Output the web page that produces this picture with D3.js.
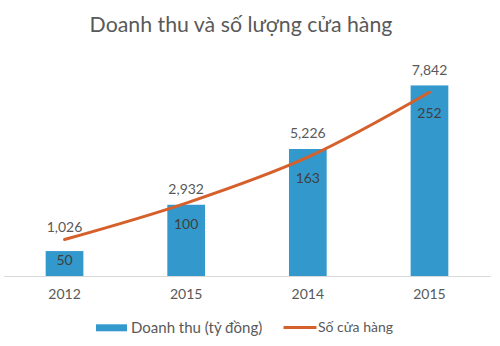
<!DOCTYPE html>
<html>
<head>
<meta charset="utf-8">
<script src="https://cdn.jsdelivr.net/npm/d3@7"></script>
<style>
  html, body { margin: 0; padding: 0; background: #fff; }
  svg { display: block; font-family: Lato, "Open Sans", sans-serif; }
</style>
</head>
<body>
<svg id="chart" width="500" height="346"></svg>
<script>
// Chart data
const categories = ["2012", "2015", "2014", "2015"];
const revenue = [1026, 2932, 5226, 7842];      // Doanh thu (tỷ đồng)
const storeCount = [50, 100, 163, 252];        // Số cửa hàng
const titleText = "Doanh thu và số lượng cửa hàng";
const seriesNames = ["Doanh thu (tỷ đồng)", "Số cửa hàng"];

const svg = d3.select("#chart");
const barColor = "#3399cc";
const lineColor = "#d5602b";
const textColor = "#595959";

const plotLeft = 3.7, plotRight = 490.3, plotBase = 276, plotTop = 57.3;

const x = d3.scaleBand()
  .domain(d3.range(categories.length))
  .range([plotLeft, plotRight])
  .paddingInner(0.69)
  .paddingOuter(0.345);

const y = d3.scaleLinear().domain([0, 9000]).range([plotBase, plotTop]);
const y2 = d3.scaleLinear().domain([0, 300]).range([plotBase, plotTop]);
const cx = i => x(i) + x.bandwidth() / 2;

// Title
svg.append("text")
  .attr("x", 241).attr("y", 25)
  .attr("dy", "0.35em")
  .attr("text-anchor", "middle")
  .attr("font-size", 21.3)
  .attr("fill", textColor)
  .text(titleText);

// Bars
svg.append("g").selectAll("rect")
  .data(revenue)
  .join("rect")
  .attr("x", (d, i) => x(i))
  .attr("y", d => y(d))
  .attr("width", x.bandwidth())
  .attr("height", d => plotBase - y(d))
  .attr("fill", barColor);

// Category axis
const axis = svg.append("g")
  .attr("transform", `translate(0,${plotBase})`)
  .call(d3.axisBottom(x).tickSize(0).tickSizeOuter(0).tickPadding(13)
    .tickFormat(i => categories[i]));
axis.select(".domain").attr("stroke", "#d9d9d9").attr("stroke-width", 1);
axis.selectAll("text")
  .attr("font-size", 14)
  .attr("fill", textColor)
  .attr("font-family", "Lato, 'Open Sans', sans-serif");

// Store count line (smoothed)
const line = d3.line()
  .x((d, i) => cx(i))
  .y(d => y2(d))
  .curve(d3.curveCatmullRom.alpha(0.5));

svg.append("path")
  .datum(storeCount)
  .attr("d", line)
  .attr("fill", "none")
  .attr("stroke", lineColor)
  .attr("stroke-width", 3)
  .attr("stroke-linecap", "round");

// Revenue labels above bars, lifted clear of the line where needed
svg.append("g").selectAll("text")
  .data(revenue)
  .join("text")
  .attr("x", (d, i) => cx(i))
  .attr("y", (d, i) => Math.min(y(d) - 15.5, y2(storeCount[i]) - 12))
  .attr("dy", "0.35em")
  .attr("text-anchor", "middle")
  .attr("font-size", 14)
  .attr("fill", textColor)
  .text(d => d3.format(",")(d));

// Store count labels below line points
svg.append("g").selectAll("text")
  .data(storeCount)
  .join("text")
  .attr("x", (d, i) => cx(i))
  .attr("y", d => y2(d) + 21)
  .attr("dy", "0.35em")
  .attr("text-anchor", "middle")
  .attr("font-size", 14)
  .attr("fill", "#404040")
  .text(d => d);

// Legend
const legend = svg.append("g");
legend.append("rect")
  .attr("x", 96).attr("y", 324.3)
  .attr("width", 31).attr("height", 7)
  .attr("fill", barColor);
legend.append("text")
  .attr("x", 131).attr("y", 327.5).attr("dy", "0.35em")
  .attr("font-size", 15).attr("fill", textColor)
  .text(seriesNames[0]);
legend.append("line")
  .attr("x1", 283.5).attr("x2", 316.5)
  .attr("y1", 327.5).attr("y2", 327.5)
  .attr("stroke", lineColor).attr("stroke-width", 3);
legend.append("text")
  .attr("x", 318).attr("y", 327.5).attr("dy", "0.35em")
  .attr("font-size", 14).attr("fill", textColor)
  .text(seriesNames[1]);
</script>
</body>
</html>
